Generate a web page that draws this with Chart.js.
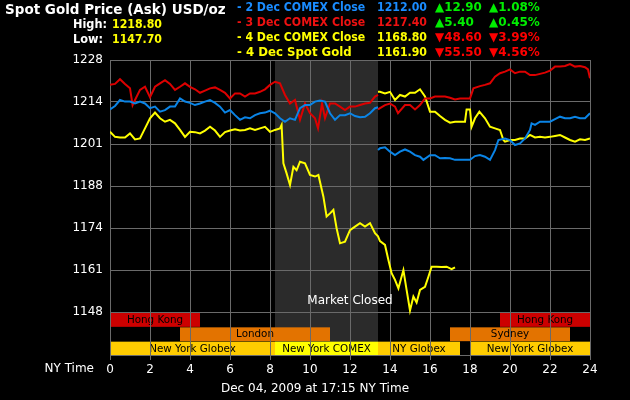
<!DOCTYPE html>
<html>
<head>
<meta charset="utf-8">
<script src="https://cdn.jsdelivr.net/npm/chart.js@4.4.1/dist/chart.umd.min.js"></script>
<style>
  html, body { margin: 0; padding: 0; background: #000; }
  #wrap { width: 630px; height: 400px; }
</style>
</head>
<body>
<div id="wrap"><canvas id="goldChart"></canvas></div>
<script>
// y axis ticks (80 split in 6, labels truncated like the original)
const yTicks = [1148, 1161.333, 1174.667, 1188, 1201.333, 1214.667, 1228];
const xTicks = [0, 2, 4, 6, 8, 10, 12, 14, 16, 18, 20, 22, 24];

// 2 Dec COMEX close (blue)
const blueAmHours = [0,0.25,0.5,0.75,1,1.25,1.5,1.75,2,2.25,2.5,2.75,3,3.25,3.5,3.75,4,4.25,4.5,4.75,5,5.25,5.5,5.75,6,6.25,6.5,6.75,7,7.25,7.5,7.75,8,8.25,8.5,8.75,9,9.25,9.5,9.75,10,10.25,10.5,10.75,11,11.25,11.5,11.75,12,12.25,12.5,12.75,13,13.25,13.4];
const blueAmPrices = [1212.3,1213.4,1215.3,1214.8,1214.8,1214.2,1214.8,1214.2,1212.7,1213.2,1211.6,1212.1,1213.2,1213.2,1215.8,1214.8,1214.4,1213.7,1214.2,1214.8,1215.3,1214.4,1213.2,1211.3,1212.1,1210.5,1209,1209.8,1209.5,1210.5,1211.1,1211.3,1211.9,1211.1,1209.5,1208.4,1209.5,1209,1212.7,1213.7,1213.7,1214.8,1215.1,1214.8,1211.1,1209,1210.5,1210.5,1211.1,1210.2,1209.8,1210,1211.1,1212.7,1213];
const bluePmHours = [13.4,13.5,13.75,14,14.25,14.5,14.75,15,15.25,15.5,15.67,16,16.25,16.5,16.75,17,17.25,17.5,17.75,18,18.25,18.5,18.75,19,19.25,19.42,19.75,20,20.25,20.5,20.75,21,21.08,21.25,21.5,21.75,22,22.25,22.5,22.75,23,23.25,23.5,23.75,24];
const bluePmPrices = [1199.4,1200,1200.3,1198.9,1197.8,1198.9,1199.6,1198.9,1197.8,1197.3,1196.3,1197.8,1197.8,1196.8,1196.9,1196.8,1196.3,1196.3,1196.3,1196.3,1197.5,1197.8,1197.3,1196.3,1199.4,1202.6,1203.1,1202.6,1201,1201.5,1203.1,1205.8,1207.9,1207.4,1208.4,1208.4,1208.4,1209.2,1210,1209.5,1209.5,1210,1209.5,1209.5,1211.1];

// 3 Dec COMEX close (red)
const redAmHours = [0,0.25,0.5,0.75,1,1.13,1.25,1.5,1.75,2,2.25,2.5,2.75,3,3.25,3.5,3.75,4,4.25,4.5,4.75,5,5.25,5.5,5.75,6,6.25,6.5,6.75,7,7.25,7.5,7.75,8,8.25,8.5,8.75,9,9.25,9.5,9.75,10,10.25,10.4,10.6,10.75,11,11.25,11.5,11.75,12,12.25,12.5,12.75,13,13.25,13.4];
const redAmPrices = [1220.1,1220.4,1221.9,1220.4,1219,1213.7,1215.3,1218.5,1219.5,1216.2,1219.5,1220.6,1221.6,1220.4,1218.5,1219.5,1220.6,1219.5,1218.7,1217.6,1218.3,1219,1219.3,1218.5,1217.6,1215.8,1217.4,1217.4,1216.4,1217.4,1217.4,1217.9,1218.7,1220.1,1221.1,1220.6,1216.9,1214.2,1215.3,1209,1214.2,1211.1,1209.5,1206.3,1214.2,1209.5,1214.2,1214.2,1213.2,1212.1,1213.2,1213.2,1213.7,1214.2,1214.4,1216.4,1216.9];
const redPmHours = [13.4,13.5,13.75,14,14.25,14.4,14.75,15,15.25,15.5,15.75,16,16.25,16.5,16.75,17,17.25,17.5,17.75,18,18.17,18.5,18.75,19,19.25,19.5,19.75,20,20.25,20.5,20.75,21,21.25,21.5,21.75,22,22.25,22.5,22.75,23,23.25,23.5,23.75,23.9,24];
const redPmPrices = [1212.3,1212.7,1213.7,1214.2,1213.2,1211.1,1213.7,1213.7,1212.3,1213.7,1215.8,1215.8,1216.4,1216.4,1216.4,1216,1215.5,1215.8,1215.8,1215.8,1219,1219.7,1220.1,1220.6,1222.7,1223.8,1224.3,1225,1223.8,1224.3,1224.3,1223.2,1223.2,1223.6,1224,1224.6,1225.9,1225.9,1226.1,1226.7,1225.9,1226.1,1225.7,1225,1222.2];

// 4 Dec (yellow): today so far, and the late-session line
const yellowHours = [0,0.25,0.5,0.75,1,1.25,1.5,1.75,2,2.25,2.5,2.75,3,3.25,3.5,3.75,4,4.25,4.5,4.75,5,5.25,5.5,5.75,6,6.25,6.5,6.75,7,7.25,7.5,7.75,8,8.25,8.5,8.58,8.67,8.83,9,9.17,9.33,9.5,9.75,10,10.25,10.42,10.67,10.83,11,11.17,11.33,11.5,11.75,12,12.25,12.5,12.75,13,13.25,13.4,13.5,13.75,13.92,14.08,14.25,14.42,14.67,14.83,15,15.17,15.33,15.5,15.75,15.92,16.08,16.33,16.58,16.83,17.08,17.25];
const yellowPrices = [1205.2,1203.6,1203.4,1203.4,1204.7,1202.8,1203.1,1206.3,1209.5,1211.3,1209.5,1208.4,1209,1207.9,1205.8,1203.6,1205.2,1205.1,1204.7,1205.6,1206.8,1205.6,1203.6,1205.1,1205.6,1206,1205.6,1205.8,1206.3,1205.8,1206.3,1206.8,1205.2,1205.8,1206.3,1207.4,1195.2,1192,1188.3,1194.1,1193,1195.7,1195.2,1191.5,1191,1191.5,1184.6,1178.3,1179.3,1180.4,1174.6,1169.8,1170.3,1174,1175.1,1176.2,1175.1,1176.2,1173,1172,1170.5,1169.3,1164.5,1160.3,1158.2,1155.5,1161.3,1155,1148.5,1152.9,1151,1155,1156,1159.2,1162.4,1162.4,1162.3,1162.4,1161.6,1162.2];
const yellowPmHours = [13.4,13.5,13.75,14,14.25,14.5,14.75,15,15.25,15.5,15.75,16,16.25,16.5,16.75,17,17.25,17.5,17.75,17.83,18,18.08,18.25,18.47,18.75,19,19.25,19.5,19.67,19.75,20,20.25,20.5,20.75,21,21.25,21.5,21.75,22,22.25,22.5,22.75,23,23.25,23.5,23.75,24];
const yellowPmPrices = [1217.9,1217.9,1217.4,1217.9,1215.3,1216.9,1216.4,1217.6,1217.6,1218.7,1216.4,1211.6,1211.6,1210.2,1209,1208.1,1208.4,1208.4,1208.4,1212.3,1212.3,1206.8,1209.5,1211.6,1209.5,1206.8,1206.3,1205.8,1202.6,1202.1,1202.6,1202.6,1203.1,1203.1,1204.2,1203.4,1203.6,1203.4,1203.6,1203.9,1204.2,1203.4,1202.6,1202.1,1202.8,1202.6,1203.1];

// market sessions (hours)
const closedFrom = 8.25, closedTo = 13.4;
const sessionNames = ['Hong Kong', 'Hong Kong', 'London', 'Sydney', 'New York Globex', 'New York COMEX', 'NY Globex', 'New York Globex'];
const sessionStart = [0, 19.5, 3.5, 17, 0, 8.25, 13.4, 18];
const sessionEnd = [4.5, 24, 11, 23, 8.25, 13.4, 17.5, 24];
const sessionRow = [0, 0, 1, 1, 2, 2, 2, 2];
const sessionColors = ['#cc0000', '#cc0000', '#e37300', '#e37300', '#ffcc00', '#ffff00', '#ffcc00', '#ffcc00'];

// header
const legendLabels = ['- 2 Dec COMEX Close', '- 3 Dec COMEX Close', '- 4 Dec COMEX Close', '- 4 Dec Spot Gold'];
const legendCloses = ['1212.00', '1217.40', '1168.80', '1161.90'];
const legendChanges = ['\u25B212.90', '\u25B25.40', '\u25BC48.60', '\u25BC55.50'];
const legendPercents = ['\u25B21.08%', '\u25B20.45%', '\u25BC3.99%', '\u25BC4.56%'];
const legendColors = ['#1a8cff', '#ee1111', '#ffff00', '#ffff00'];
const changeColors = ['#00ee00', '#00ee00', '#ff0000', '#ff0000'];

const BLUE = '#0a84e6', RED = '#dd0000', YELLOW = '#ffff00';

function pts(h, p) { return h.map((x, i) => ({ x: x, y: p[i] })); }
function line(data, color) {
  return { data: data, borderColor: color, borderWidth: 2, pointRadius: 0, tension: 0, fill: false };
}

// squeeze bitmap-like header text into the widths of the original
function fitText(ctx, text, x, y, w) {
  const m = ctx.measureText(text).width;
  if (m <= w) { ctx.fillText(text, x, y); return; }
  ctx.save();
  ctx.translate(x, y);
  ctx.scale(w / m, 1);
  ctx.fillText(text, 0, 0);
  ctx.restore();
}

const backdrop = {
  id: 'backdrop',
  beforeDraw(chart) {
    const ctx = chart.ctx, a = chart.chartArea, x = chart.scales.x, y = chart.scales.y;
    ctx.save();
    ctx.fillStyle = '#000';
    ctx.fillRect(0, 0, chart.width, chart.height);
    ctx.fillStyle = '#2b2b2b';
    ctx.fillRect(x.getPixelForValue(closedFrom), a.top, x.getPixelForValue(closedTo) - x.getPixelForValue(closedFrom), a.bottom - a.top);
    const bandTop = y.getPixelForValue(1148);
    const rowH = (a.bottom - bandTop) / 3;
    ctx.font = '11px "DejaVu Sans"';
    ctx.textAlign = 'center';
    ctx.textBaseline = 'middle';
    sessionNames.forEach((name, i) => {
      const x0 = x.getPixelForValue(sessionStart[i]), x1 = x.getPixelForValue(sessionEnd[i]);
      const top = bandTop + rowH * sessionRow[i] + 1;
      ctx.fillStyle = sessionColors[i];
      ctx.fillRect(x0, top, x1 - x0, rowH - 0.5);
      ctx.fillStyle = '#000';
      const cx = (x0 + x1) / 2, tw = ctx.measureText(name).width * 0.94;
      ctx.textAlign = 'left';
      fitText(ctx, name, cx - tw / 2, top + rowH / 2, tw);
      ctx.textAlign = 'center';
    });
    ctx.restore();
  },
  afterDraw(chart) {
    const ctx = chart.ctx, x = chart.scales.x, y = chart.scales.y;
    ctx.save();
    ctx.textBaseline = 'middle';
    ctx.fillStyle = '#fff';
    ctx.font = '12px "DejaVu Sans"';
    ctx.textAlign = 'center';
    ctx.fillText('Market Closed', x.getPixelForValue(12), y.getPixelForValue(1151.5));
    ctx.textAlign = 'right';
    ctx.fillText('NY Time', 94, 369);
    ctx.textAlign = 'center';
    ctx.fillText('Dec 04, 2009 at 17:15 NY Time', 315, 389);

    ctx.textAlign = 'left';
    ctx.font = 'bold 13.5px "DejaVu Sans"';
    fitText(ctx, 'Spot Gold Price (Ask) USD/oz', 5, 10, 221);
    ctx.font = 'bold 12px "DejaVu Sans"';
    fitText(ctx, 'High:', 73, 25, 34);
    fitText(ctx, 'Low:', 73, 40, 30);
    ctx.fillStyle = '#ffff00';
    fitText(ctx, '1218.80', 112, 25, 50);
    fitText(ctx, '1147.70', 112, 40, 50);
    legendLabels.forEach((lab, i) => {
      const yy = 8 + i * 14.8;
      ctx.fillStyle = legendColors[i];
      fitText(ctx, lab, 237, yy, lab.length * 6.75);
      fitText(ctx, legendCloses[i], 377, yy, 50);
      ctx.fillStyle = changeColors[i];
      fitText(ctx, legendChanges[i], 435, yy, legendChanges[i].length * 7.8);
      fitText(ctx, legendPercents[i], 489, yy, 54);
    });
    ctx.restore();
  }
};

new Chart(document.getElementById('goldChart'), {
  type: 'line',
  data: {
    datasets: [
      line(pts(blueAmHours, blueAmPrices), BLUE),
      line(pts(bluePmHours, bluePmPrices), BLUE),
      line(pts(redAmHours, redAmPrices), RED),
      line(pts(redPmHours, redPmPrices), RED),
      line(pts(yellowPmHours, yellowPmPrices), YELLOW),
      line(pts(yellowHours, yellowPrices), YELLOW)
    ]
  },
  options: {
    responsive: true,
    maintainAspectRatio: false,
    animation: false,
    layout: { padding: { top: 60, right: 40, left: 0, bottom: 0 } },
    plugins: { legend: { display: false }, tooltip: { enabled: false } },
    scales: {
      x: {
        type: 'linear',
        min: 0, max: 24,
        afterBuildTicks: s => { s.ticks = xTicks.map(v => ({ value: v })); },
        afterFit: s => { s.height = 45; },
        grid: { color: '#6a6a6a', lineWidth: 1, tickLength: 5, tickColor: '#6a6a6a' },
        border: { color: '#6a6a6a' },
        ticks: { color: '#fff', font: { family: 'DejaVu Sans', size: 12 }, padding: 3, maxRotation: 0 }
      },
      y: {
        min: 1134.35, max: 1228,
        afterBuildTicks: s => { s.ticks = yTicks.map(v => ({ value: v })); },
        afterFit: s => { s.width = 110; },
        grid: { color: '#6a6a6a', lineWidth: 1, drawTicks: false },
        border: { color: '#6a6a6a' },
        ticks: { color: '#fff', font: { family: 'DejaVu Sans', size: 12 }, padding: 7, callback: v => Math.floor(v + 0.001) }
      }
    }
  },
  plugins: [backdrop]
});
</script>
</body>
</html>
